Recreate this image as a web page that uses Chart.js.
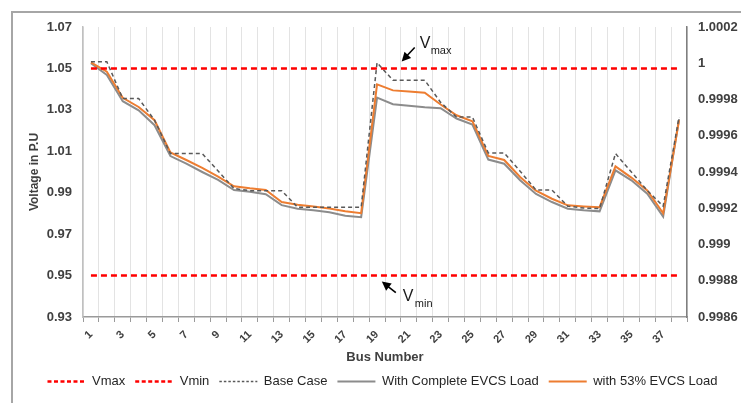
<!DOCTYPE html>
<html>
<head>
<meta charset="utf-8">
<script src="https://cdn.jsdelivr.net/npm/chart.js@4.4.1/dist/chart.umd.min.js"></script>
<style>
  html, body { margin: 0; padding: 0; background: #fff; }
  #wrap { position: relative; width: 741px; height: 403px; overflow: hidden; }
  #frame { position: absolute; left: 11px; top: 11px; width: 800px; height: 500px;
           border-left: 2px solid #a6a6a6; border-top: 2px solid #a6a6a6; }
  canvas { position: absolute; left: 0; top: 0; }
</style>
</head>
<body>
<div id="wrap"><div id="frame"></div><canvas id="chart" width="741" height="403"></canvas></div>
<script>
// ===== DATA =====
const buses = ['1','2','3','4','5','6','7','8','9','10','11','12','13','14','15','16','17','18','19',
               '20','21','22','23','24','25','26','27','28','29','30','31','32','33','34','35','36','37','38'];

const vMax = 1.05;
const vMin = 0.95;

const baseCase = [1.0532, 1.0532, 1.0355, 1.0355, 1.025, 1.0089, 1.0089, 1.0089, 1.0005, 0.992,
                  0.991, 0.991, 0.991, 0.983, 0.983, 0.983, 0.983, 0.983, 1.0528, 1.0443,
                  1.0443, 1.0443, 1.0336, 1.0265, 1.0265, 1.0092, 1.0092, 1.0004, 0.9913, 0.9913,
                  0.9835, 0.9826, 0.9823, 1.0089, 1.0, 0.9911, 0.9835, 1.0265];

const completeEvcs = [1.0525, 1.0468, 1.0342, 1.0298, 1.0226, 1.0077, 1.004, 1.0, 0.9962, 0.9913,
                      0.9905, 0.9893, 0.984, 0.9823, 0.9815, 0.9806, 0.9789, 0.9782, 1.0359, 1.0327,
                      1.032, 1.0313, 1.0308, 1.0258, 1.0229, 1.006, 1.004, 0.996, 0.9894, 0.9855,
                      0.9823, 0.9815, 0.981, 1.0008, 0.996, 0.9895, 0.9785, 1.0255];

const evcs53 = [1.0529, 1.0484, 1.0358, 1.0314, 1.025, 1.0094, 1.0058, 1.002, 0.9978, 0.9931,
                0.9921, 0.9913, 0.9855, 0.9842, 0.9833, 0.9824, 0.981, 0.9801, 1.0423, 1.0394,
                1.0389, 1.0383, 1.0326, 1.0274, 1.0245, 1.0078, 1.0058, 0.9976, 0.991, 0.9871,
                0.9839, 0.9834, 0.983, 1.0027, 0.9973, 0.9911, 0.9801, 1.025];

const leftTicks = [0.93, 0.95, 0.97, 0.99, 1.01, 1.03, 1.05, 1.07];
const rightTicks = [0.9986, 0.9988, 0.999, 0.9992, 0.9994, 0.9996, 0.9998, 1, 1.0002];

// ===== ANNOTATIONS (Vmax / Vmin arrows) =====
function drawNote(ctx, tx, ty, dx, dy, sub, vx, vy, sx, sy) {
    const ang = Math.atan2(-dy, -dx);
    ctx.save();
    ctx.strokeStyle = '#000';
    ctx.fillStyle = '#000';
    ctx.lineWidth = 1.6;
    ctx.beginPath();
    ctx.moveTo(tx + dx, ty + dy);
    ctx.lineTo(tx - 6 * Math.cos(ang), ty - 6 * Math.sin(ang));
    ctx.stroke();
    ctx.beginPath();
    ctx.moveTo(tx, ty);
    ctx.lineTo(tx - 9 * Math.cos(ang) + 4.5 * Math.sin(ang), ty - 9 * Math.sin(ang) - 4.5 * Math.cos(ang));
    ctx.lineTo(tx - 9 * Math.cos(ang) - 4.5 * Math.sin(ang), ty - 9 * Math.sin(ang) + 4.5 * Math.cos(ang));
    ctx.closePath();
    ctx.fill();
    ctx.fillStyle = '#1a1a1a';
    ctx.textBaseline = 'alphabetic';
    ctx.font = '16px "Liberation Sans", Arial, sans-serif';
    ctx.fillText('V', tx + vx, ty + vy);
    ctx.font = '11px "Liberation Sans", Arial, sans-serif';
    ctx.fillText(sub, tx + sx, ty + sy);
    ctx.restore();
}

const limitNotes = {
    id: 'limitNotes',
    afterDraw(chart) {
        const {ctx, scales: {x, y}} = chart;
        drawNote(ctx, x.getPixelForValue(19.55), y.getPixelForValue(vMax) - 7, 13, -14, 'max', 18, -13, 29, -7);
        drawNote(ctx, x.getPixelForValue(18.3), y.getPixelForValue(vMin) + 6, 14, 11, 'min', 21, 19, 33, 25);
    }
};

// legend samples keep the dataset dash pattern
function legendLabels(chart) {
    const items = Chart.defaults.plugins.legend.labels.generateLabels(chart);
    items.forEach(item => {
        const ds = chart.data.datasets[item.datasetIndex];
        item.lineDash = ds.legendDash || [];
        item.lineWidth = ds.borderWidth;
        item.strokeStyle = ds.borderColor;
    });
    return items;
}

// ===== CHART =====
const ctx = document.getElementById('chart').getContext('2d');
const tickFont = {family: '"Liberation Sans", Arial, sans-serif', size: 13, weight: 'bold'};

new Chart(ctx, {
    type: 'line',
    data: {
        labels: buses,
        datasets: [
            {label: 'Vmax', data: buses.map(() => vMax), borderColor: '#ff0000', borderWidth: 2.5,
             borderDash: [6, 4], legendDash: [4, 2.5], order: 1},
            {label: 'Vmin', data: buses.map(() => vMin), borderColor: '#ff0000', borderWidth: 2.5,
             borderDash: [6, 4], legendDash: [4, 2.5], order: 2},
            {label: 'Base Case', data: baseCase, borderColor: '#595959', borderWidth: 1.5,
             borderDash: [4, 3], legendDash: [2.5, 2], order: 3},
            {label: 'With Complete EVCS Load', data: completeEvcs, borderColor: '#8c8c8c', borderWidth: 2,
             order: 5},
            {label: 'with 53% EVCS Load', data: evcs53, borderColor: '#ed7d31', borderWidth: 2,
             order: 4}
        ]
    },
    options: {
        responsive: false,
        animation: false,
        devicePixelRatio: 1,
        elements: {
            point: {radius: 0, hoverRadius: 0},
            line: {tension: 0, fill: false}
        },
        layout: {padding: {left: 24, top: 27, right: 0, bottom: 5}},
        plugins: {
            legend: {
                position: 'bottom',
                labels: {
                    usePointStyle: true,
                    pointStyle: 'line',
                    pointStyleWidth: 38,
                    padding: 10,
                    color: '#262626',
                    font: {family: '"Liberation Sans", Arial, sans-serif', size: 13},
                    generateLabels: legendLabels,
                    sort: (a, b) => a.datasetIndex - b.datasetIndex
                }
            },
            tooltip: {enabled: false}
        },
        scales: {
            x: {
                offset: true,
                grid: {display: true, offset: true, color: '#e3e3e3', tickColor: '#9a9a9a', tickLength: 5},
                border: {display: true, color: '#9a9a9a', width: 1.5},
                ticks: {
                    autoSkip: false,
                    minRotation: 45,
                    maxRotation: 45,
                    padding: 6,
                    color: '#404040',
                    font: {family: '"Liberation Sans", Arial, sans-serif', size: 11, weight: 'bold'},
                    callback: function(v, i) { return i % 2 === 0 ? buses[i] : ''; }
                },
                title: {display: true, text: 'Bus Number', color: '#404040', padding: {top: 2, bottom: 0},
                        font: {family: '"Liberation Sans", Arial, sans-serif', size: 13, weight: 'bold'}},
                afterFit(scale) { scale.height = 48; }
            },
            y: {
                position: 'left',
                min: 0.93,
                max: 1.07,
                grid: {display: false, drawTicks: false},
                border: {display: true, color: '#c0c0c0', width: 1.5},
                ticks: {padding: 11, color: '#404040', font: tickFont,
                        callback: v => v.toFixed(2)},
                afterBuildTicks(scale) { scale.ticks = leftTicks.map(v => ({value: v})); },
                title: {display: true, text: 'Voltage in P.U', color: '#404040', padding: {top: 3, bottom: 0},
                        font: {family: '"Liberation Sans", Arial, sans-serif', size: 12, weight: 'bold'}},
                afterFit(scale) { scale.width = 59; }
            },
            y2: {
                position: 'right',
                min: 0.9986,
                max: 1.0002,
                grid: {display: false, drawTicks: false},
                border: {display: true, color: '#7f7f7f', width: 1.5},
                ticks: {padding: 11, color: '#404040', font: tickFont,
                        callback: v => String(+v.toFixed(4))},
                afterBuildTicks(scale) { scale.ticks = rightTicks.map(v => ({value: v})); },
                afterFit(scale) { scale.width = 54; }
            }
        }
    },
    plugins: [limitNotes]
});
</script>
</body>
</html>
